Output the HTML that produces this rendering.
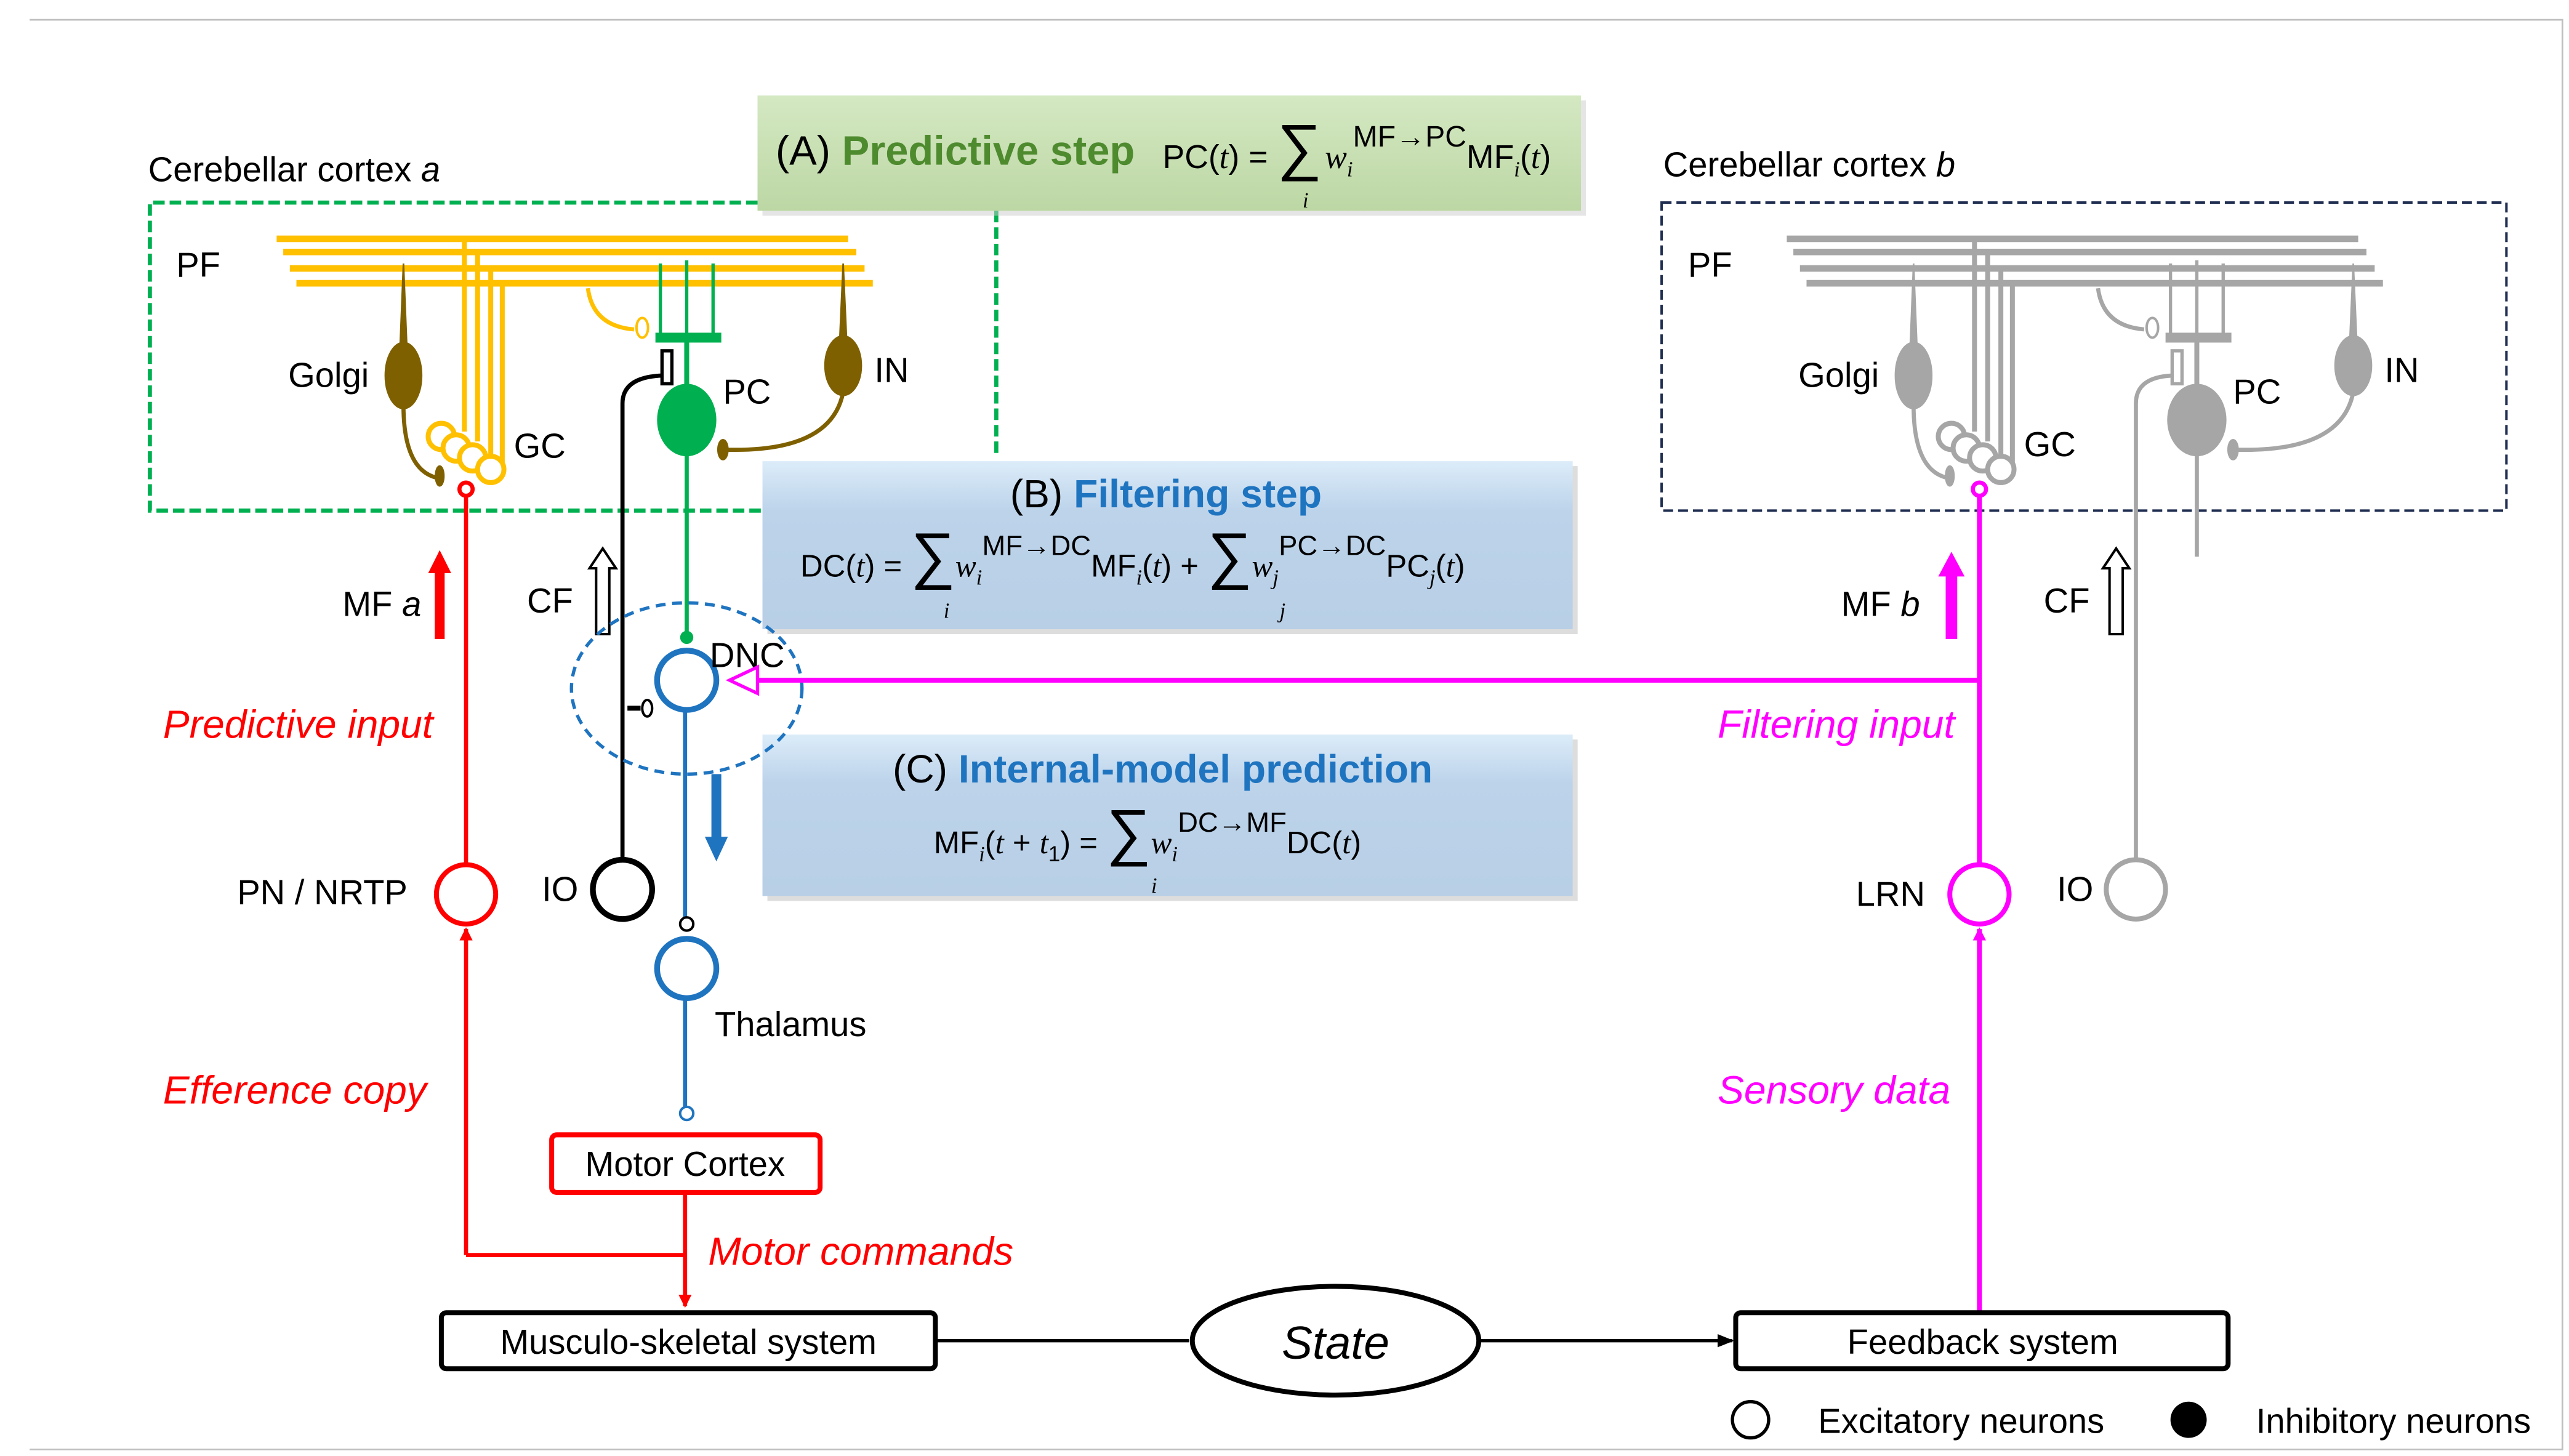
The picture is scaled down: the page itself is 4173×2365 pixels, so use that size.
<!DOCTYPE html>
<html><head><meta charset="utf-8"><style>
html,body{margin:0;padding:0;background:#fff}
svg{display:block}
text{font-family:"Liberation Sans",sans-serif}
.m{font-family:"Liberation Serif",serif;font-style:italic}
</style></head><body>
<svg width="4173" height="2365" viewBox="0 0 1560 884" preserveAspectRatio="none" xmlns="http://www.w3.org/2000/svg">
<defs>
<linearGradient id="ga" x1="0" y1="0" x2="0" y2="1"><stop offset="0" stop-color="#d4e8c2"/><stop offset="1" stop-color="#bcd7a4"/></linearGradient>
<linearGradient id="gb" x1="0" y1="0" x2="0" y2="1"><stop offset="0" stop-color="#dcecf9"/><stop offset="0.3" stop-color="#bcd3ea"/><stop offset="1" stop-color="#b8cfe6"/></linearGradient>
<marker id="ar" markerWidth="8" markerHeight="8" refX="7" refY="4" orient="auto" markerUnits="userSpaceOnUse"><path d="M0,0 L8,4 L0,8z" fill="#ff0000"/></marker>
<marker id="ak" markerWidth="10" markerHeight="8" refX="9" refY="4" orient="auto" markerUnits="userSpaceOnUse"><path d="M0,0 L10,4 L0,8z" fill="#000"/></marker>
<marker id="am" markerWidth="8" markerHeight="8" refX="7" refY="4" orient="auto" markerUnits="userSpaceOnUse"><path d="M0,0 L8,4 L0,8z" fill="#ff00ff"/></marker>
<g id="cx">
 <g stroke="var(--pf)" stroke-width="4" fill="none">
  <path d="M168 145H515M172 153H520M176 163H525M180 172H530"/>
  <path d="M282 145V262M290 153V268M298 163V276M305 172V282" stroke-width="3"/>
  <circle cx="268" cy="265" r="8" stroke-width="3" fill="#fff"/>
  <circle cx="277" cy="272" r="8" stroke-width="3" fill="#fff"/>
  <circle cx="287" cy="278" r="8" stroke-width="3" fill="#fff"/>
  <circle cx="298" cy="285" r="8" stroke-width="3" fill="#fff"/>
  <path d="M357 175 Q360 198 385 200" stroke-width="2.5"/>
  <ellipse cx="390" cy="199" rx="3.5" ry="6" stroke-width="1.5" fill="#fff"/>
 </g>
 <g fill="var(--br)" stroke="var(--br)">
  <path d="M245 160 L247 210 L243 210z"/>
  <ellipse cx="245" cy="228" rx="11" ry="20"/>
  <path d="M245 246 Q245 285 265 290" fill="none" stroke-width="2.5"/>
  <ellipse cx="267" cy="289" rx="2.5" ry="6"/>
  <path d="M512 160 L514 205 L510 205z"/>
  <ellipse cx="512" cy="222" rx="11" ry="18"/>
  <path d="M512 238 Q505 275 440 273" fill="none" stroke-width="2.5"/>
  <ellipse cx="439" cy="273" rx="3" ry="6"/>
 </g>
 <g stroke="var(--pc)" fill="var(--pc)">
  <path d="M401 160V205M417 158V205M433 160V205" stroke-width="2" fill="none"/>
  <rect x="398" y="202" width="40" height="6" stroke="none"/>
  <path d="M417 205V240" stroke-width="3"/>
  <ellipse cx="417" cy="255" rx="18" ry="22" stroke="none"/>
 </g>
 <rect x="402" y="213" width="6" height="20" fill="#fff" stroke="var(--cf)" stroke-width="2"/>
</g>
</defs>

<path d="M18 12H1556V880H18" fill="none" stroke="#bfbfbf" stroke-width="1"/>

<!-- cortex a -->
<path d="M460 123H91V310H463M605 128V276" fill="none" stroke="#00b050" stroke-width="2.5" stroke-dasharray="7 3"/>
<text x="90" y="110" font-size="21">Cerebellar cortex <tspan font-style="italic">a</tspan></text>
<use href="#cx" style="--pf:#ffc000;--br:#7f6000;--pc:#00b050;--cf:#000"/>
<path d="M417 275V385" stroke="#00b050" stroke-width="2.5"/>
<circle cx="417" cy="387" r="4" fill="#00b050"/>
<path d="M378 522V245 Q378 229 402 228" fill="none" stroke="#000" stroke-width="2.5"/>
<text x="107" y="168" font-size="21">PF</text>
<text x="175" y="235" font-size="21">Golgi</text>
<text x="312" y="278" font-size="21">GC</text>
<text x="439" y="245" font-size="21">PC</text>
<text x="531" y="232" font-size="21">IN</text>

<!-- cortex b -->
<rect x="1009" y="123" width="513" height="187" fill="none" stroke="#1f2d50" stroke-width="1.5" stroke-dasharray="6 3"/>
<text x="1010" y="107" font-size="21">Cerebellar cortex <tspan font-style="italic">b</tspan></text>
<use href="#cx" transform="translate(917,0)" style="--pf:#a6a6a6;--br:#a6a6a6;--pc:#a6a6a6;--cf:#a6a6a6"/>
<path d="M1334 275V338" stroke="#a6a6a6" stroke-width="2.5"/>
<path d="M1297 522V245 Q1297 229 1319 228" fill="none" stroke="#a6a6a6" stroke-width="2.5"/>
<circle cx="1297" cy="540" r="18" fill="#fff" stroke="#a6a6a6" stroke-width="3"/>
<text x="1025" y="168" font-size="21">PF</text>
<text x="1092" y="235" font-size="21">Golgi</text>
<text x="1229" y="277" font-size="21">GC</text>
<text x="1356" y="245" font-size="21">PC</text>
<text x="1448" y="232" font-size="21">IN</text>
<text x="1249" y="547" font-size="21">IO</text>

<!-- boxes -->
<rect x="463" y="61" width="500" height="70" fill="#ccc" opacity="0.5"/>
<rect x="460" y="58" width="500" height="70" fill="url(#ga)"/>
<text x="471" y="100" font-size="25">(A) <tspan font-weight="bold" fill="#4e8a2e">Predictive step</tspan></text>
<text x="706" y="102" font-size="20">PC(<tspan class="m">t</tspan>) = <tspan font-size="38">∑</tspan><tspan class="m" dx="2">w</tspan><tspan class="m" font-size="13" dy="5">i</tspan><tspan font-size="18" dy="-18">MF→PC</tspan><tspan dy="13">MF</tspan><tspan class="m" font-size="13" dy="5">i</tspan><tspan dy="-5">(</tspan><tspan class="m">t</tspan>)</text>
<text x="791" y="126" class="m" font-size="13">i</text>

<rect x="466" y="283" width="492" height="102" fill="#bbb" opacity="0.5"/>
<rect x="463" y="280" width="492" height="102" fill="url(#gb)"/>
<text x="708" y="308" font-size="24" text-anchor="middle">(B) <tspan font-weight="bold" fill="#1f74c0">Filtering step</tspan></text>
<text x="486" y="350" font-size="19">DC(<tspan class="m">t</tspan>) = <tspan font-size="38">∑</tspan><tspan class="m">w</tspan><tspan class="m" font-size="13" dy="5">i</tspan><tspan font-size="17" dy="-18">MF→DC</tspan><tspan dy="13">MF</tspan><tspan class="m" font-size="13" dy="5">i</tspan><tspan dy="-5">(</tspan><tspan class="m">t</tspan>)  + <tspan font-size="38">∑</tspan><tspan class="m">w</tspan><tspan class="m" font-size="13" dy="5">j</tspan><tspan font-size="17" dy="-18">PC→DC</tspan><tspan dy="13">PC</tspan><tspan class="m" font-size="13" dy="5">j</tspan><tspan dy="-5">(</tspan><tspan class="m">t</tspan>)</text>
<text x="573" y="375" class="m" font-size="13">i</text>
<text x="777" y="375" class="m" font-size="13">j</text>

<rect x="466" y="449" width="492" height="98" fill="#bbb" opacity="0.5"/>
<rect x="463" y="446" width="492" height="98" fill="url(#gb)"/>
<text x="706" y="475" font-size="24" text-anchor="middle">(C) <tspan font-weight="bold" fill="#1f74c0">Internal-model prediction</tspan></text>
<text x="567" y="518" font-size="19">MF<tspan class="m" font-size="13" dy="5">i</tspan><tspan dy="-5">(</tspan><tspan class="m">t</tspan> + <tspan class="m">t</tspan><tspan font-size="13" dy="5">1</tspan><tspan dy="-5">) = </tspan><tspan font-size="38">∑</tspan><tspan class="m">w</tspan><tspan class="m" font-size="13" dy="5">i</tspan><tspan font-size="17" dy="-18">DC→MF</tspan><tspan dy="13">DC(</tspan><tspan class="m">t</tspan>)</text>
<text x="699" y="542" class="m" font-size="13">i</text>

<!-- MF a / PN -->
<path d="M283 300V524" stroke="#ff0000" stroke-width="2.5"/>
<circle cx="283" cy="297" r="4" fill="#fff" stroke="#ff0000" stroke-width="2.5"/>
<path d="M267 388V346" stroke="#ff0000" stroke-width="6"/>
<path d="M260 348 L267 334 L274 348z" fill="#ff0000"/>
<text x="208" y="374" font-size="21">MF <tspan font-style="italic">a</tspan></text>
<path d="M362 385V345H358L366 333L374 345H370V385z" fill="#fff" stroke="#000" stroke-width="1.5"/>
<text x="320" y="372" font-size="21">CF</text>
<circle cx="283" cy="543" r="18" fill="#fff" stroke="#ff0000" stroke-width="3"/>
<text x="144" y="549" font-size="21">PN / NRTP</text>
<path d="M283 762V564" stroke="#ff0000" stroke-width="2.5" marker-end="url(#ar)"/>
<path d="M283 762H416" stroke="#ff0000" stroke-width="2.5" fill="none"/>
<path d="M416 724V793" stroke="#ff0000" stroke-width="2.5" marker-end="url(#ar)"/>
<rect x="335" y="689" width="163" height="35" rx="3" fill="#fff" stroke="#ff0000" stroke-width="3"/>
<text x="416" y="714" font-size="21" text-anchor="middle">Motor Cortex</text>

<!-- IO / DNC -->
<circle cx="378" cy="540" r="18" fill="#fff" stroke="#000" stroke-width="3.5"/>
<text x="329" y="547" font-size="21">IO</text>
<path d="M381 430H389" stroke="#000" stroke-width="3"/>
<ellipse cx="393" cy="430" rx="3" ry="5" fill="#fff" stroke="#000" stroke-width="1.5"/>
<ellipse cx="417" cy="418" rx="70" ry="52" fill="none" stroke="#1f74c0" stroke-width="2" stroke-dasharray="6 4"/>
<circle cx="417" cy="413" r="18" fill="#fff" stroke="#1f74c0" stroke-width="3.5"/>
<text x="431" y="405" font-size="21">DNC</text>
<path d="M416 431V557M416 606V673" stroke="#1f74c0" stroke-width="2.5"/>
<circle cx="417" cy="561" r="4" fill="#fff" stroke="#000" stroke-width="1.5"/>
<circle cx="417" cy="676" r="4" fill="#fff" stroke="#1f74c0" stroke-width="1.5"/>
<circle cx="417" cy="588" r="18" fill="#fff" stroke="#1f74c0" stroke-width="3.5"/>
<text x="434" y="629" font-size="21">Thalamus</text>
<path d="M435 470V510" stroke="#1f74c0" stroke-width="6"/>
<path d="M428 508 L435 523 L442 508z" fill="#1f74c0"/>

<!-- magenta -->
<path d="M1202 300V524M1202 413H449" stroke="#ff00ff" stroke-width="3" fill="none"/>
<path d="M460 405 L443 413 L460 421z" fill="#fff" stroke="#ff00ff" stroke-width="2"/>
<circle cx="1202" cy="297" r="4" fill="#fff" stroke="#ff00ff" stroke-width="2.5"/>
<path d="M1185 388V348" stroke="#ff00ff" stroke-width="7"/>
<path d="M1177 350 L1185 335 L1193 350z" fill="#ff00ff"/>
<text x="1118" y="374" font-size="21">MF <tspan font-style="italic">b</tspan></text>
<path d="M1281 385V345H1277L1285 333L1293 345H1289V385z" fill="#fff" stroke="#000" stroke-width="1.5"/>
<text x="1241" y="372" font-size="21">CF</text>
<circle cx="1202" cy="543" r="18" fill="#fff" stroke="#ff00ff" stroke-width="3"/>
<text x="1127" y="550" font-size="21">LRN</text>
<path d="M1202 796V564" stroke="#ff00ff" stroke-width="3" marker-end="url(#am)"/>

<g font-size="24" font-style="italic">
<text x="99" y="448" fill="#ff0000">Predictive input</text>
<text x="99" y="670" fill="#ff0000">Efference copy</text>
<text x="430" y="768" fill="#ff0000">Motor commands</text>
<text x="1043" y="448" fill="#ff00ff">Filtering input</text>
<text x="1043" y="670" fill="#ff00ff">Sensory data</text>
</g>

<rect x="268" y="797" width="300" height="34" rx="3" fill="#fff" stroke="#000" stroke-width="3"/>
<text x="418" y="822" font-size="21" text-anchor="middle">Musculo-skeletal system</text>
<ellipse cx="811" cy="814" rx="87" ry="33" fill="#fff" stroke="#000" stroke-width="3"/>
<text x="811" y="825" font-size="28" font-style="italic" text-anchor="middle">State</text>
<rect x="1054" y="797" width="299" height="34" rx="3" fill="#fff" stroke="#000" stroke-width="3"/>
<text x="1204" y="822" font-size="21" text-anchor="middle">Feedback system</text>
<path d="M568 814H722M898 814H1052" stroke="#000" stroke-width="2" marker-end="url(#ak)"/>

<circle cx="1063" cy="862" r="11" fill="#fff" stroke="#000" stroke-width="2"/>
<text x="1104" y="870" font-size="21">Excitatory neurons</text>
<circle cx="1329" cy="862" r="11" fill="#000"/>
<text x="1370" y="870" font-size="21">Inhibitory neurons</text>
</svg>
</body></html>
